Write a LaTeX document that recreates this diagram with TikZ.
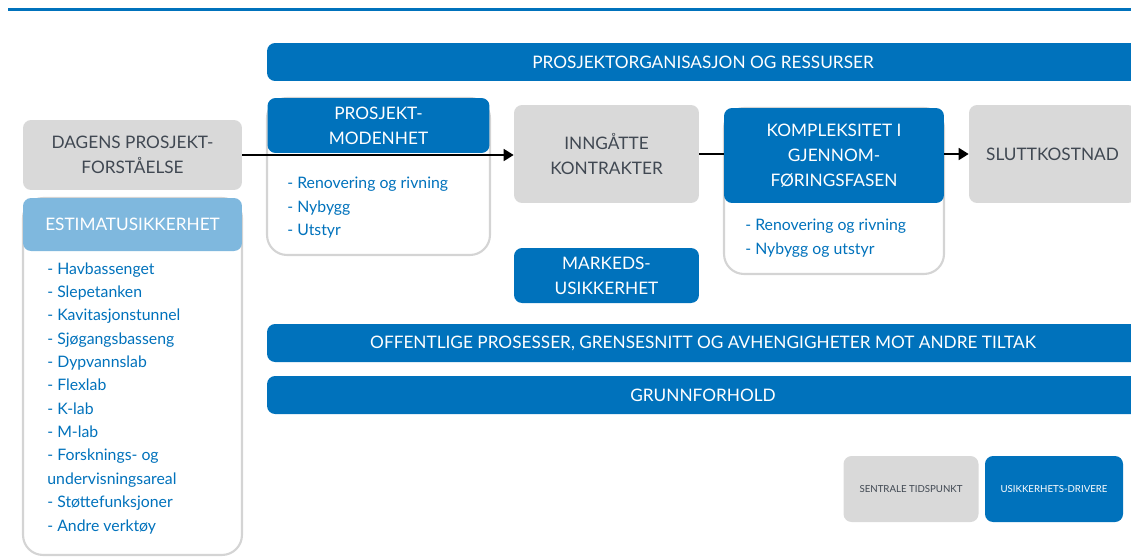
\documentclass[tikz,border=0pt]{standalone}
\usepackage{fontspec}
\setmainfont{Lato}
\usetikzlibrary{arrows.meta}
\definecolor{mainblue}{RGB}{0,114,188}
\definecolor{lightblue}{RGB}{127,184,222}
\definecolor{boxgray}{RGB}{217,217,217}
\definecolor{textgray}{RGB}{64,72,82}
\definecolor{rimgray}{RGB}{212,212,212}
\begin{document}
\begin{tikzpicture}[x=0.02cm, y=-0.02cm,
	milestone/.style={fill=boxgray, rounded corners=0.16cm, text=textgray, align=center,
		inner sep=0pt, font=\fontsize{9.8}{14.2}\selectfont},
	driver/.style={fill=mainblue, rounded corners=0.16cm, text=white, align=center,
		inner sep=0pt, font=\fontsize{9.8}{14.2}\selectfont},
	banner/.style={driver, minimum width=17.44cm, minimum height=0.76cm},
	listbox/.style={draw=rimgray, line width=1.2pt, fill=white, rounded corners=0.4cm, inner sep=0pt},
	items/.style={anchor=north west, align=left, text=mainblue, inner sep=0pt,
		font=\fontsize{9}{13.3}\selectfont},
	legend/.style={minimum width=2.7cm, minimum height=1.32cm, font=\fontsize{5.5}{7}\selectfont},
	flow/.style={line width=1pt, black}]
	\useasboundingbox (0,0) rectangle (1131,558);
	\clip (0,0) rectangle (1131,558);
	%top rule
	\draw[mainblue, line width=0.06cm] (8,9) -- (1131,9);
	%banners
	\node[banner] (ressurser) at (703,62) {PROSJEKTORGANISASJON OG RESSURSER};
	\node[banner] (offentlige) at (703,343) {OFFENTLIGE PROSESSER, GRENSESNITT OG AVHENGIGHETER MOT ANDRE TILTAK};
	\node[banner] (grunn) at (703,395) {GRUNNFORHOLD};
	%milestones
	\node[milestone, minimum width=4.38cm, minimum height=1.4cm] (dagens) at (132.5,155)
		{DAGENS PROSJEKT-\\FORSTÅELSE};
	\node[milestone, minimum width=3.7cm, minimum height=1.96cm] (inngaatte) at (606.5,154)
		{INNGÅTTE\\KONTRAKTER};
	\node[milestone, minimum width=3.34cm, minimum height=1.96cm] (slutt) at (1052.5,154)
		{SLUTTKOSTNAD};
	%estimate uncertainty
	\node[listbox, minimum width=4.38cm, minimum height=7.14cm] (estimat) at (132.5,376.5) {};
	\node[driver, fill=lightblue, minimum width=4.38cm, minimum height=1.06cm] (estimathead) at (132.5,224.5)
		{ESTIMATUSIKKERHET};
	\node[items] (estimatlist) at (47,262) {- Havbassenget\\- Slepetanken\\- Kavitasjonstunnel\\
		- Sjøgangsbasseng\\- Dypvannslab\\- Flexlab\\- K-lab\\- M-lab\\- Forsknings- og\\
		undervisningsareal\\- Støttefunksjoner\\- Andre verktøy};
	%project maturity
	\node[listbox, minimum width=4.46cm, minimum height=3.14cm] (modenhet) at (378.5,176.5) {};
	\node[driver, minimum width=4.44cm, minimum height=1.1cm] (modenhethead) at (378.5,125.5)
		{PROSJEKT-\\MODENHET};
	\node[items] (modenhetlist) at (287,177) {- Renovering og rivning\\- Nybygg\\- Utstyr};
	%complexity
	\node[listbox, minimum width=4.4cm, minimum height=3.32cm] (kompleks) at (834,191) {};
	\node[driver, minimum width=4.4cm, minimum height=1.9cm] (komplekshead) at (834,155.5)
		{KOMPLEKSITET I\\GJENNOM-\\FØRINGSFASEN};
	\node[items] (komplekslist) at (745,219) {- Renovering og rivning\\- Nybygg og utstyr};
	%market
	\node[driver, minimum width=3.7cm, minimum height=1.1cm] (markeds) at (606.5,275.5)
		{MARKEDS-\\USIKKERHET};
	%flow
	\draw[flow, -{Triangle[length=0.2cm, width=0.24cm]}] (dagens.east) -- (dagens.east -| inngaatte.west);
	\draw[flow] (inngaatte.east) -- (inngaatte.east -| komplekshead.west);
	\draw[flow, -{Triangle[length=0.2cm, width=0.24cm]}] (slutt.west -| komplekshead.east) -- (slutt.west);
	%legend
	\node[milestone, legend] (tidspunkt) at (911,489) {SENTRALE TIDSPUNKT};
	\node[driver, legend, minimum width=2.76cm] (drivere) at (1054,489) {USIKKERHETS-DRIVERE};
\end{tikzpicture}
\end{document}
